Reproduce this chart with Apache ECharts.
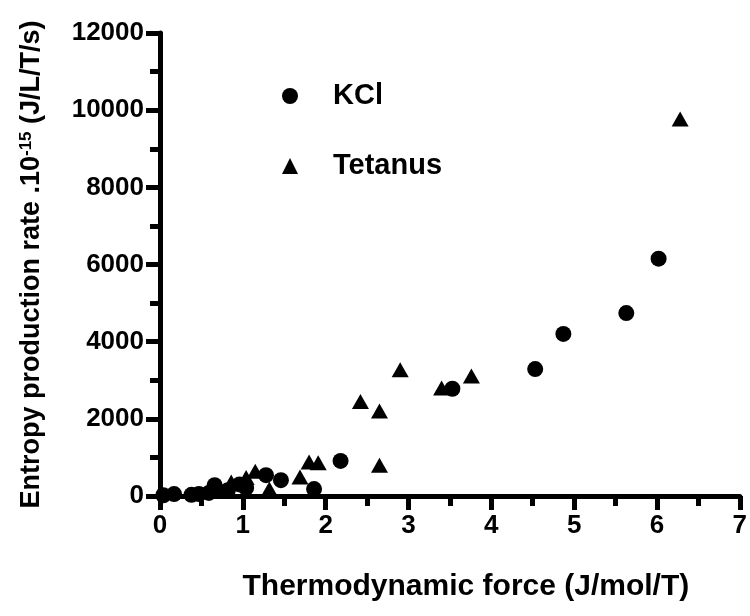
<!DOCTYPE html>
<html>
<head>
<meta charset="utf-8">
<script src="https://cdn.jsdelivr.net/npm/echarts@6/dist/echarts.min.js"></script>
<style>
html,body{margin:0;padding:0;background:#fff;}
#chart{width:750px;height:616px;}
</style>
</head>
<body>
<div id="chart"></div>
<script>
var kclX = [0.04, 0.17, 0.38, 0.47, 0.59, 0.66, 0.82, 0.96, 1.04, 1.28, 1.46, 1.86, 2.18, 3.53, 4.53, 4.87, 5.63, 6.02];
var kclY = [20, 50, 30, 50, 80, 280, 150, 300, 210, 540, 410, 180, 910, 2780, 3290, 4200, 4740, 6150];
var tetX = [0.70, 0.86, 1.04, 1.15, 1.32, 1.69, 1.80, 1.91, 2.42, 2.65, 2.65, 2.90, 3.40, 3.76, 6.28];
var tetY = [150, 360, 480, 640, 180, 490, 880, 860, 2450, 2200, 800, 3270, 2800, 3110, 9770];
var xTicks = [0, 1, 2, 3, 4, 5, 6, 7];
var yTicks = [0, 2000, 4000, 6000, 8000, 10000, 12000];

function pairs(xs, ys) { return xs.map(function (x, i) { return [x, ys[i]]; }); }

var FONT = "'Liberation Sans', Arial, sans-serif";
var chart = echarts.init(document.getElementById('chart'), null, {renderer: 'canvas'});
var axisCommon = {
  axisLine: {show: true, onZero: false, lineStyle: {color: '#000', width: 5}},
  axisTick: {show: true, inside: false, length: 14, lineStyle: {color: '#000', width: 5}},
  minorTick: {show: true, splitNumber: 2, length: 10, lineStyle: {color: '#000', width: 5}},
  splitLine: {show: false},
  axisLabel: {color: '#000', fontFamily: FONT, fontWeight: 'bold', fontSize: 26, formatter: function (v) { return String(v); }}
};
chart.setOption({
  animation: false,
  backgroundColor: '#fff',
  grid: {left: 160, right: 7, top: 33, bottom: 120, containLabel: false},
  legend: {
    orient: 'vertical', left: 277, top: 76, itemWidth: 16, itemHeight: 16, itemGap: 40,
    data: [{name: 'KCl', icon: 'circle'}, {name: 'Tetanus', icon: 'triangle'}],
    textStyle: {color: '#000', fontFamily: FONT, fontWeight: 'bold', fontSize: 29, lineHeight: 30, padding: [0, 0, 0, 30]}
  },
  xAxis: Object.assign({}, axisCommon, {
    type: 'value', min: xTicks[0], max: xTicks[xTicks.length - 1], interval: 1,
    axisLabel: Object.assign({}, axisCommon.axisLabel, {margin: 17}),
    name: 'Thermodynamic force (J/mol/T)', nameLocation: 'middle', nameGap: 76,
    nameTextStyle: {color: '#000', fontFamily: FONT, fontWeight: 'bold', fontSize: 30, padding: [0, 0, 0, 32]}
  }),
  yAxis: Object.assign({}, axisCommon, {
    type: 'value', min: yTicks[0], max: yTicks[yTicks.length - 1], interval: 2000,
    axisLabel: Object.assign({}, axisCommon.axisLabel, {margin: 16}),
    name: 'Entropy production rate .10{sup|-15} (J/L/T/s)', nameLocation: 'middle', nameGap: 115, nameRotate: 90,
    nameTextStyle: {color: '#000', fontFamily: FONT, fontWeight: 'bold', fontSize: 27,
      rich: {sup: {fontFamily: FONT, fontWeight: 'bold', fontSize: 17, verticalAlign: 'top', color: '#000'}}}
  }),
  series: [
    {name: 'KCl', type: 'scatter', symbol: 'circle', symbolSize: 16, itemStyle: {color: '#000', opacity: 1}, data: pairs(kclX, kclY)},
    {name: 'Tetanus', type: 'scatter', symbol: 'triangle', symbolSize: [17, 15], itemStyle: {color: '#000', opacity: 1}, data: pairs(tetX, tetY)}
  ]
});
</script>
</body>
</html>
